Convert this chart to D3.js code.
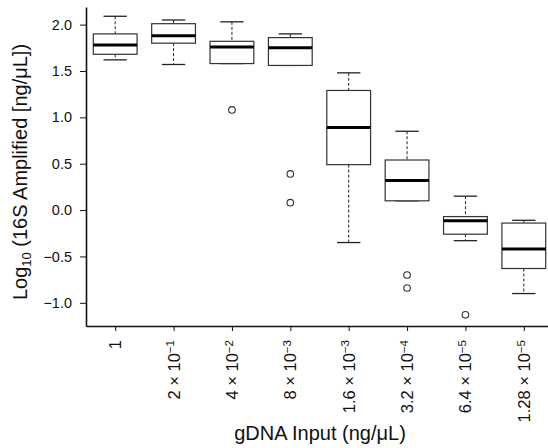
<!DOCTYPE html>
<html>
<head>
<meta charset="utf-8">
<script src="https://cdn.jsdelivr.net/npm/d3@7"></script>
<style>
    body { margin: 0; background: #fff; }
    text { font-family: "Liberation Sans", Arial, sans-serif; fill: #111; }
    .axis path, .axis line { stroke: #111; }
</style>
</head>
<body>
<div id="chart"></div>
<script>
const labelMantissa = ['1', '2', '4', '8', '1.6', '3.2', '6.4', '1.28']
const labelExponent = [null, '−1', '−2', '−3', '−3', '−4', '−5', '−5']
const whiskerHigh = [2.09, 2.05, 2.03, 1.90, 1.48, 0.85, 0.15, -0.11]
const upperQuartile = [1.90, 2.01, 1.82, 1.86, 1.29, 0.54, -0.07, -0.14]
const medians = [1.78, 1.88, 1.76, 1.75, 0.89, 0.32, -0.115, -0.42]
const lowerQuartile = [1.68, 1.80, 1.58, 1.56, 0.49, 0.10, -0.26, -0.63]
const whiskerLow = [1.62, 1.57, 1.58, 1.56, -0.35, 0.10, -0.33, -0.90]
const outliers = [[], [], [1.08], [0.39, 0.08], [], [-0.70, -0.84], [-1.13], []]
const yTicks = [-1, -0.5, 0, 0.5, 1, 1.5, 2]

function drawChart() {
    const dimensions = {
        width: 548,
        height: 448,
        plotLeft: 86,
        plotRight: 553,
        plotTop: 7,
        plotBottom: 326,
    }

    const boxes = medians.map((m, i) => ({
        pos: i + 1,
        high: whiskerHigh[i],
        q3: upperQuartile[i],
        median: m,
        q1: lowerQuartile[i],
        low: whiskerLow[i],
        outliers: outliers[i],
    }))

    const svg = d3.select('#chart')
        .append('svg')
        .attr('width', dimensions.width)
        .attr('height', dimensions.height)

    const xScale = d3.scaleLinear()
        .domain([0.5, 8.5])
        .range([dimensions.plotLeft, dimensions.plotRight])

    const yScale = d3.scaleLinear()
        .domain([-1.25, 2.19])
        .range([dimensions.plotBottom, dimensions.plotTop])

    const boxWidth = xScale(1.75) - xScale(1)
    const capWidth = xScale(1.4) - xScale(1)

    const boxGroups = svg.selectAll('.box')
        .data(boxes)
        .enter().append('g')
        .attr('class', 'box')

    // whiskers
    boxGroups.append('line')
        .attr('x1', d => xScale(d.pos))
        .attr('x2', d => xScale(d.pos))
        .attr('y1', d => yScale(d.high))
        .attr('y2', d => yScale(d.q3))
        .attr('stroke', '#222')
        .attr('stroke-dasharray', '3,2')
    boxGroups.append('line')
        .attr('x1', d => xScale(d.pos))
        .attr('x2', d => xScale(d.pos))
        .attr('y1', d => yScale(d.q1))
        .attr('y2', d => yScale(d.low))
        .attr('stroke', '#222')
        .attr('stroke-dasharray', '3,2')
    boxGroups.append('line')
        .attr('x1', d => xScale(d.pos) - capWidth / 2)
        .attr('x2', d => xScale(d.pos) + capWidth / 2)
        .attr('y1', d => yScale(d.high))
        .attr('y2', d => yScale(d.high))
        .attr('stroke', '#222')
        .attr('stroke-width', 1.3)
    boxGroups.append('line')
        .attr('x1', d => xScale(d.pos) - capWidth / 2)
        .attr('x2', d => xScale(d.pos) + capWidth / 2)
        .attr('y1', d => yScale(d.low))
        .attr('y2', d => yScale(d.low))
        .attr('stroke', '#222')
        .attr('stroke-width', 1.3)

    boxGroups.append('rect')
        .attr('x', d => xScale(d.pos) - boxWidth / 2)
        .attr('width', boxWidth)
        .attr('y', d => yScale(d.q3))
        .attr('height', d => yScale(d.q1) - yScale(d.q3))
        .attr('fill', '#fff')
        .attr('stroke', '#333')
        .attr('stroke-width', 1.2)

    boxGroups.append('line')
        .attr('x1', d => xScale(d.pos) - boxWidth / 2)
        .attr('x2', d => xScale(d.pos) + boxWidth / 2)
        .attr('y1', d => yScale(d.median))
        .attr('y2', d => yScale(d.median))
        .attr('stroke', '#000')
        .attr('stroke-width', 3)

    boxGroups.selectAll('.outlier')
        .data(d => d.outliers.map(v => ({ pos: d.pos, value: v })))
        .enter().append('circle')
        .attr('class', 'outlier')
        .attr('cx', d => xScale(d.pos))
        .attr('cy', d => yScale(d.value))
        .attr('r', 3.3)
        .attr('fill', 'none')
        .attr('stroke', '#333')
        .attr('stroke-width', 1.1)

    // axes
    const yAxis = svg.append('g')
        .attr('class', 'axis')
        .attr('transform', `translate(${dimensions.plotLeft}, 0)`)
        .call(d3.axisLeft(yScale)
            .tickValues(yTicks)
            .tickFormat(d3.format('.1f'))
            .tickSize(6)
            .tickSizeOuter(0)
            .tickPadding(8))
    yAxis.select('.domain').attr('stroke-width', 1.6)
    yAxis.selectAll('text')
        .style('font-size', '14.5px')

    const xAxis = svg.append('g')
        .attr('class', 'axis')
        .attr('transform', `translate(0, ${dimensions.plotBottom})`)
        .call(d3.axisBottom(xScale)
            .tickValues(boxes.map(d => d.pos))
            .tickFormat('')
            .tickSize(5)
            .tickSizeOuter(0))
    xAxis.select('.domain').attr('stroke-width', 1.6)

    const xLabels = svg.selectAll('.x-label')
        .data(boxes)
        .enter().append('text')
        .attr('class', 'x-label')
        .attr('transform', d => `translate(${xScale(d.pos)}, ${dimensions.plotBottom + 14}) rotate(-90)`)
        .attr('dy', '0.36em')
        .style('text-anchor', 'end')
        .style('font-size', '16.5px')

    xLabels.append('tspan')
        .text((d, i) => labelExponent[i] ? `${labelMantissa[i]} × 10` : labelMantissa[i])
    xLabels.filter((d, i) => labelExponent[i])
        .append('tspan')
        .attr('dy', '-0.45em')
        .style('font-size', '11.5px')
        .text(d => labelExponent[d.pos - 1])

    svg.append('text')
        .attr('x', 320)
        .attr('y', 440)
        .style('text-anchor', 'middle')
        .style('font-size', '20px')
        .text('gDNA Input (ng/μL)')

    const yTitle = svg.append('text')
        .attr('transform', `translate(27, 172) rotate(-90)`)
        .style('text-anchor', 'middle')
        .style('font-size', '20px')
    yTitle.append('tspan').text('Log')
    yTitle.append('tspan')
        .attr('dy', '0.3em')
        .style('font-size', '13px')
        .text('10')
    yTitle.append('tspan')
        .attr('dy', '-0.2em')
        .text(' (16S Amplified [ng/μL])')
}

drawChart()
</script>
</body>
</html>
